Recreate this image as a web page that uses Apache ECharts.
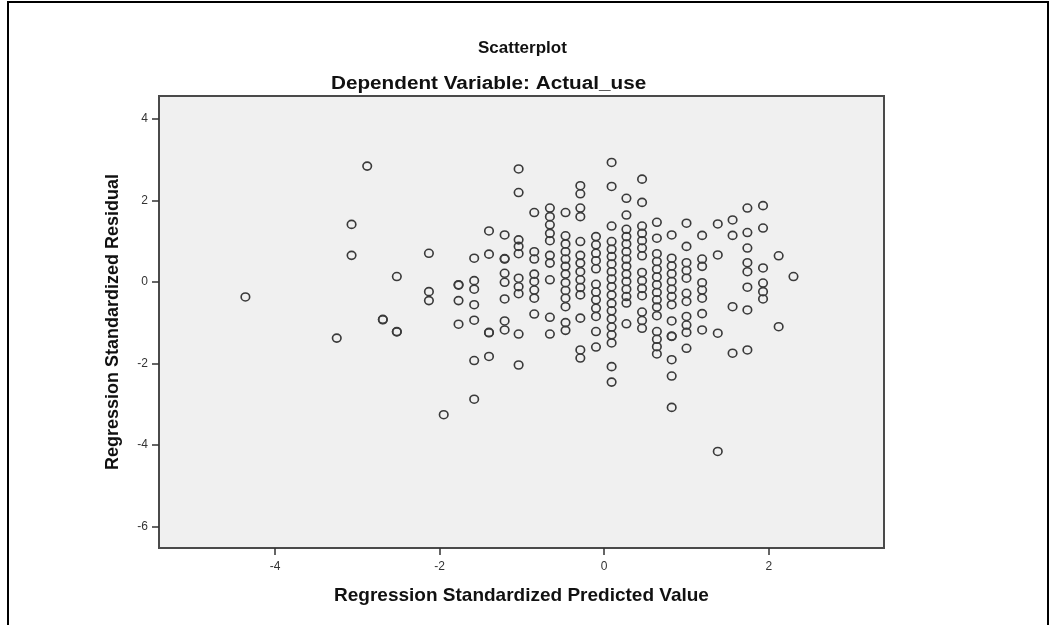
<!DOCTYPE html>
<html>
<head>
<meta charset="utf-8">
<script src="https://cdn.jsdelivr.net/npm/echarts@6/dist/echarts.min.js"></script>
<style>
html,body{margin:0;padding:0;background:#fff;}
#chart{width:1056px;height:625px;}
</style>
</head>
<body>
<div id="chart"></div>
<script>
// Predicted value levels (x) and the residuals observed at each level (y)
const predictedLevels = [-4.36, -3.25, -3.07, -2.88, -2.69, -2.52, -2.13, -1.95, -1.77, -1.58, -1.40, -1.21, -1.04, -0.85, -0.66, -0.47, -0.29, -0.10, 0.09, 0.27, 0.46, 0.64, 0.82, 1.00, 1.19, 1.38, 1.56, 1.74, 1.93, 2.12, 2.30];
const residualsByLevel = [
  [-0.37],
  [-1.38],
  [1.41, 0.65],
  [2.84],
  [-0.92, -0.93],
  [0.13, -1.22, -1.23],
  [0.70, -0.24, -0.46],
  [-3.26],
  [-0.07, -0.08, -0.46, -1.04],
  [0.58, 0.03, -0.18, -0.56, -0.94, -1.93, -2.88],
  [1.25, 0.68, -1.24, -1.25, -1.83],
  [1.15, 0.56, 0.57, 0.21, -0.01, -0.42, -0.96, -1.18],
  [2.77, 2.19, 1.03, 0.87, 0.69, 0.09, -0.12, -0.29, -1.28, -2.04],
  [1.70, 0.74, 0.56, 0.19, 0.01, -0.20, -0.40, -0.79],
  [1.81, 1.60, 1.40, 1.19, 1.01, 0.65, 0.46, 0.05, -0.87, -1.28],
  [1.70, 1.13, 0.93, 0.74, 0.56, 0.38, 0.19, -0.02, -0.21, -0.40, -0.61, -1.00, -1.19],
  [2.36, 2.16, 1.81, 1.60, 0.99, 0.65, 0.46, 0.25, 0.05, -0.14, -0.32, -0.89, -1.67, -1.87],
  [1.11, 0.91, 0.70, 0.52, 0.32, -0.06, -0.25, -0.44, -0.65, -0.85, -1.22, -1.60],
  [2.93, 2.34, 1.37, 0.99, 0.80, 0.62, 0.44, 0.25, 0.07, -0.12, -0.32, -0.53, -0.71, -0.91, -1.11, -1.30, -1.50, -2.08, -2.46],
  [2.05, 1.64, 1.29, 1.11, 0.93, 0.74, 0.56, 0.38, 0.19, 0.01, -0.18, -0.36, -0.52, -1.03],
  [2.52, 1.95, 1.37, 1.19, 1.01, 0.83, 0.64, 0.23, 0.03, -0.16, -0.34, -0.74, -0.95, -1.14],
  [1.46, 1.07, 0.69, 0.50, 0.31, 0.12, -0.07, -0.26, -0.44, -0.62, -0.83, -1.22, -1.41, -1.59, -1.77],
  [1.15, 0.58, 0.39, 0.20, 0.01, -0.18, -0.36, -0.56, -0.96, -1.33, -1.34, -1.91, -2.31, -3.08],
  [1.44, 0.87, 0.47, 0.28, 0.09, -0.28, -0.48, -0.85, -1.06, -1.24, -1.63],
  [1.14, 0.56, 0.38, -0.02, -0.20, -0.40, -0.78, -1.18],
  [1.42, 0.66, -1.26, -4.16],
  [1.52, 1.14, -0.61, -1.75],
  [1.81, 1.21, 0.83, 0.47, 0.25, -0.13, -0.69, -1.67],
  [1.87, 1.32, 0.34, -0.03, -0.24, -0.42],
  [0.64, -1.10],
  [0.13]
];
const xTicks = [-4, -2, 0, 2];
const yTicks = [-6, -4, -2, 0, 2, 4];

const points = [];
predictedLevels.forEach((x, i) => residualsByLevel[i].forEach(y => points.push([x, y])));

const font = '"Liberation Sans", Arial, sans-serif';
const chart = echarts.init(document.getElementById('chart'));
chart.setOption({
  backgroundColor: '#ffffff',
  animation: false,
  grid: { left: 159, right: 172, top: 96, bottom: 77, show: true,
    backgroundColor: '#f0f0f0', borderColor: '#4a4a4a', borderWidth: 2 },
  xAxis: {
    type: 'value', min: -5.41, max: 3.40,
    name: 'Regression Standardized Predicted Value', nameLocation: 'middle', nameGap: 38,
    nameTextStyle: { fontFamily: font, fontSize: 19, fontWeight: 'bold', color: '#111' },
    axisLine: { show: true, onZero: false, lineStyle: { color: '#4a4a4a', width: 2 } },
    splitLine: { show: false },
    axisTick: { show: true, length: 7, customValues: xTicks, lineStyle: { color: '#333', width: 1.5 } },
    axisLabel: { customValues: xTicks, margin: 13, fontFamily: font, fontSize: 12, color: '#333' }
  },
  yAxis: {
    type: 'value', min: -6.53, max: 4.56,
    name: 'Regression Standardized Residual', nameLocation: 'middle', nameGap: 37, nameRotate: 90,
    nameTextStyle: { fontFamily: font, fontSize: 18, fontWeight: 'bold', color: '#111' },
    axisLine: { show: true, onZero: false, lineStyle: { color: '#4a4a4a', width: 2 } },
    splitLine: { show: false },
    axisTick: { show: true, length: 7, customValues: yTicks, lineStyle: { color: '#333', width: 1.5 } },
    axisLabel: { customValues: yTicks, margin: 11, fontFamily: font, fontSize: 12, color: '#333' }
  },
  graphic: [
    { type: 'rect', shape: { x: 8, y: 2, width: 1040, height: 650 },
      style: { fill: 'none', stroke: '#000', lineWidth: 2 }, silent: true, z: -1 },
    { type: 'text', x: 478, y: 40,
      style: { text: 'Scatterplot', font: 'bold 17px ' + font, fill: '#111' } },
    { type: 'text', x: 331, y: 75, scaleX: 1.15,
      style: { text: 'Dependent Variable: Actual_use', font: 'bold 18px ' + font, fill: '#111' } }
  ],
  series: [{
    type: 'scatter',
    data: points,
    symbol: 'circle',
    symbolSize: [8.5, 8],
    itemStyle: { color: 'rgba(0,0,0,0)', borderColor: '#3a3a3a', borderWidth: 1.6, opacity: 1 }
  }]
});
</script>
</body>
</html>
